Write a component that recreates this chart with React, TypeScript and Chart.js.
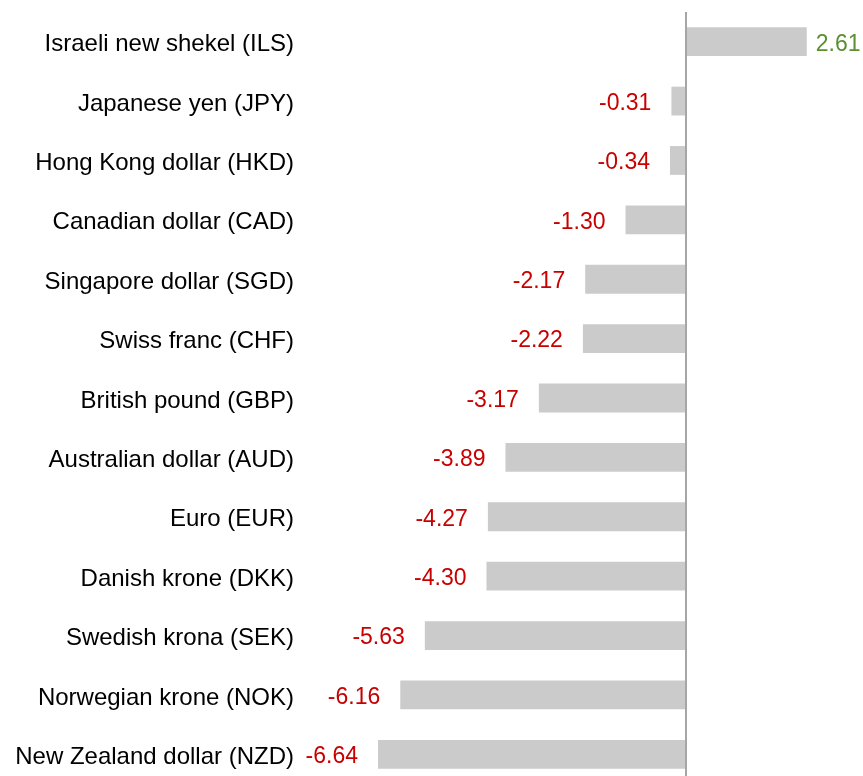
import React, { useEffect, useRef } from "react";
import { Chart, registerables } from "chart.js";

Chart.register(...registerables);

const categories: string[] = [
  "Israeli new shekel (ILS)",
  "Japanese yen (JPY)",
  "Hong Kong dollar (HKD)",
  "Canadian dollar (CAD)",
  "Singapore dollar (SGD)",
  "Swiss franc (CHF)",
  "British pound (GBP)",
  "Australian dollar (AUD)",
  "Euro (EUR)",
  "Danish krone (DKK)",
  "Swedish krona (SEK)",
  "Norwegian krone (NOK)",
  "New Zealand dollar (NZD)",
];

const values: number[] = [2.61, -0.31, -0.34, -1.3, -2.17, -2.22, -3.17, -3.89, -4.27, -4.3, -5.63, -6.16, -6.64];

const FONT = "'Liberation Sans', Arial, sans-serif";
const POS_COLOR = "#5b8f2f";
const NEG_COLOR = "#c80000";

const valueLabels = {
  id: "valueLabels",
  afterDatasetsDraw(chart: any) {
    const ctx = chart.ctx;
    const meta = chart.getDatasetMeta(0);
    ctx.save();
    ctx.font = `23px ${FONT}`;
    ctx.textBaseline = "middle";
    meta.data.forEach((bar: any, i: number) => {
      const v = values[i];
      const txt = v.toFixed(2);
      if (v >= 0) {
        ctx.fillStyle = POS_COLOR;
        ctx.textAlign = "left";
        ctx.fillText(txt, bar.x + 9, bar.y + 2.5);
      } else {
        ctx.fillStyle = NEG_COLOR;
        ctx.textAlign = "right";
        ctx.fillText(txt, bar.x - 20, bar.y + 2.5);
      }
    });
    // zero line
    const xs = chart.scales.x;
    const x0 = Math.round(xs.getPixelForValue(0));
    ctx.strokeStyle = "#a6a6a6";
    ctx.lineWidth = 2;
    ctx.beginPath();
    ctx.moveTo(x0, chart.chartArea.top);
    ctx.lineTo(x0, chart.chartArea.bottom);
    ctx.stroke();
    ctx.restore();
  },
};

export default function App() {
  const ref = useRef<HTMLCanvasElement | null>(null);
  useEffect(() => {
    if (!ref.current) return;
    const chart = new Chart(ref.current, {
      type: "bar",
      data: {
        labels: categories,
        datasets: [
          {
            data: values,
            backgroundColor: "#cbcbcb",
            borderWidth: 0,
            barPercentage: 0.485,
            categoryPercentage: 1,
          },
        ],
      },
      options: {
        indexAxis: "y",
        responsive: false,
        animation: false,
        devicePixelRatio: 1,
        layout: { padding: { top: 12, bottom: 12, left: 0, right: 15 } },
        plugins: { legend: { display: false }, tooltip: { enabled: false } },
        scales: {
          x: {
            display: false,
            min: -8,
            max: 3.5,
          },
          y: {
            grid: { display: false, drawTicks: false },
            border: { display: false },
            ticks: {
              color: "#000",
              padding: 21,
              labelOffset: 3,
              font: { family: FONT, size: 24 },
            },
            afterFit(scale: any) {
              scale.width = 315;
              scale.paddingTop = 0;
              scale.paddingBottom = 0;
            },
          },
        },
      },
      plugins: [valueLabels],
    });
    return () => chart.destroy();
  }, []);
  return (
    <div style={{ position: "fixed", left: 0, top: 0, width: 863, height: 776, overflow: "hidden", background: "#fff" }}>
      <canvas ref={ref} width={863} height={796} style={{ display: "block", width: 863, height: 796 }} />
    </div>
  );
}
